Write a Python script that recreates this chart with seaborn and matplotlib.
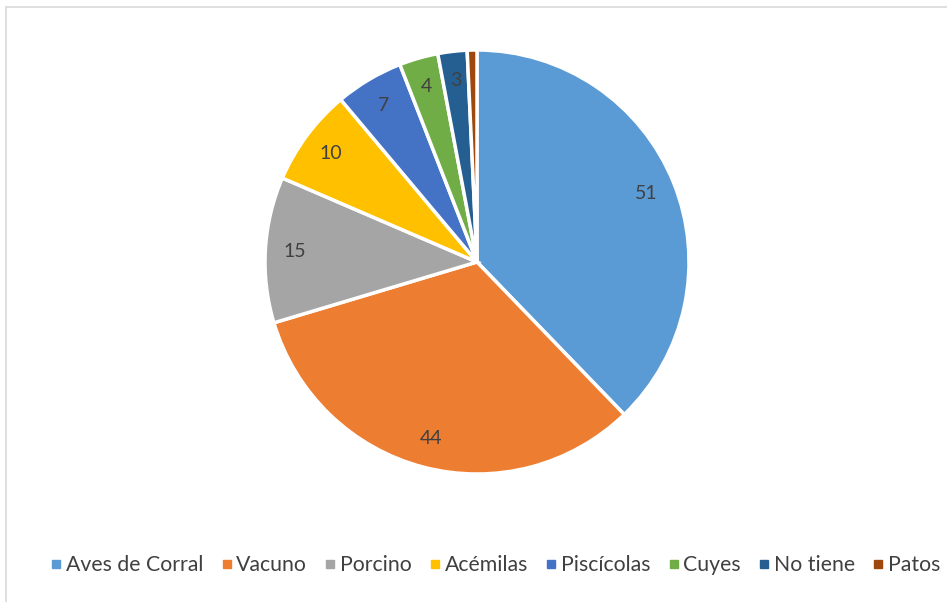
import matplotlib.pyplot as plt
import seaborn as sns
from matplotlib.lines import Line2D

# datos
categorias = ["Aves de Corral", "Vacuno", "Porcino", "Acémilas", "Piscícolas",
              "Cuyes", "No tiene", "Patos"]
valores = [51, 44, 15, 10, 7, 4, 3, 1]
etiquetas = ["51", "44", "15", "10", "7", "4", "3", ""]
colores = ["#5B9BD5", "#ED7D31", "#A5A5A5", "#FFC000", "#4472C4",
           "#70AD47", "#255E91", "#9E480E"]

sns.set_theme(style="white")
plt.rcParams['font.family'] = ['Lato', 'DejaVu Sans']

W, H = 947, 602
fig = plt.figure(figsize=(W / 100, H / 100), dpi=100)

# pie centre (477, 262), radius 212 px
cx, cy, r = 477, 262, 212
ax = fig.add_axes([(cx - r) / W, 1 - (cy + r) / H, 2 * r / W, 2 * r / H])
wedges, texts = ax.pie(valores, colors=colores, startangle=90, counterclock=False,
                       labels=etiquetas, labeldistance=0.86,
                       wedgeprops=dict(edgecolor="white", linewidth=2.5),
                       textprops=dict(color="#404040", fontsize=14))
for t in texts:
    t.set_horizontalalignment("center")
    t.set_verticalalignment("center")
ax.set_xlim(-1, 1)
ax.set_ylim(-1, 1)
ax.set_aspect("equal")
ax.axis("off")

# legend at the bottom (runs off the right edge like the original)
handles = [Line2D([], [], marker="s", linestyle="", markersize=6,
                  markerfacecolor=c, markeredgecolor=c) for c in colores]
fig.legend(handles, categorias, loc="center left", ncol=8,
           bbox_to_anchor=(36 / W, 1 - 565 / H), frameon=False,
           fontsize=15.3, labelcolor="#404040", handletextpad=0.0,
           columnspacing=0.65, handlelength=0.9, borderpad=0)

# chart border
fig.add_artist(Line2D([6 / W, 6 / W], [0, 1 - 7 / H], transform=fig.transFigure,
                      color="#D9D9D9", linewidth=1.2))
fig.add_artist(Line2D([6 / W, 1], [1 - 7 / H, 1 - 7 / H], transform=fig.transFigure,
                      color="#D9D9D9", linewidth=1.2))

fig.savefig("out.png", dpi=100)
